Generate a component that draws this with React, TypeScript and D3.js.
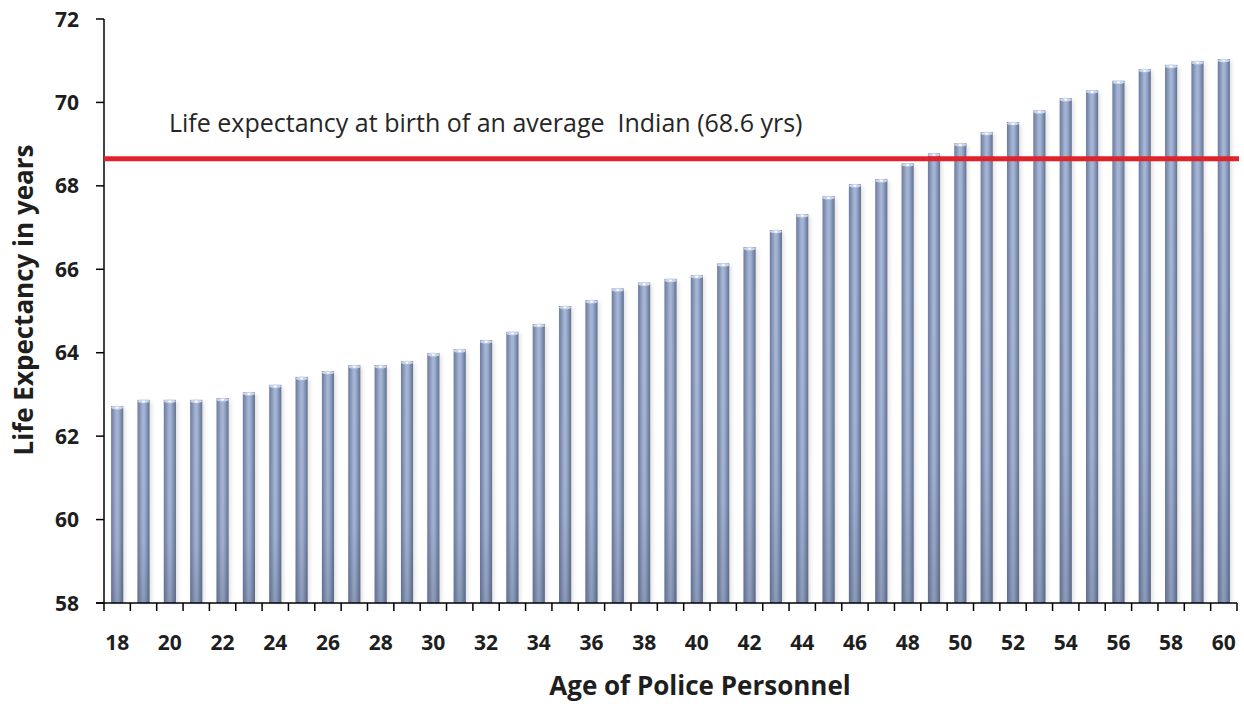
import React from "react";
import * as d3 from "d3";

const ages: number[] = [18,19,20,21,22,23,24,25,26,27,28,29,30,31,32,33,34,35,36,37,38,39,40,41,42,43,44,45,46,47,48,49,50,51,52,53,54,55,56,57,58,59,60];
const lifeExpectancy: number[] = [62.72,62.87,62.87,62.87,62.91,63.05,63.23,63.42,63.56,63.7,63.7,63.8,63.99,64.08,64.3,64.5,64.69,65.12,65.26,65.54,65.68,65.77,65.86,66.14,66.53,66.94,67.32,67.75,68.04,68.16,68.54,68.78,69.02,69.29,69.53,69.81,70.1,70.29,70.52,70.8,70.9,70.99,71.04];
const yTicks: number[] = [58,60,62,64,66,68,70,72];
const referenceValue = 68.6;
const referenceLabel = "Life expectancy at birth of an average  Indian (68.6 yrs)";
const xTitle = "Age of Police Personnel";
const yTitle = "Life Expectancy in years";

const W = 1244, H = 704;
const left = 104, right = 1237, top = 19, bottom = 603;

export default function App() {
  const x = d3.scaleBand<number>().domain(ages).range([left, right]).paddingInner(0.54).paddingOuter(0.27);
  const y = d3.scaleLinear().domain([58, 72]).range([bottom, top]);
  const font = "'Open Sans', Lato, sans-serif";
  const boundaries = d3.range(ages.length + 1).map(i => left + i * ((right - left) / ages.length));

  return (
    <svg width={W} height={H} style={{ position: "absolute", left: 0, top: 0, background: "#fff" }}>
      <defs>
        <linearGradient id="barH" x1="0" x2="1" y1="0" y2="0">
          <stop offset="0" stopColor="#6b7a9c" />
          <stop offset="0.45" stopColor="#a6b6d6" />
          <stop offset="0.6" stopColor="#9fb0d2" />
          <stop offset="1" stopColor="#62708f" />
        </linearGradient>
        <linearGradient id="barV" x1="0" x2="0" y1="0" y2="1">
          <stop offset="0" stopColor="#ffffff" stopOpacity="0" />
          <stop offset="0.7" stopColor="#3a4660" stopOpacity="0.05" />
          <stop offset="1" stopColor="#3a4660" stopOpacity="0.25" />
        </linearGradient>
        <filter id="shadow" x="-50%" y="-5%" width="200%" height="110%">
          <feGaussianBlur stdDeviation="2" />
        </filter>
      </defs>

      {ages.map((a, i) => {
        const bx = x(a)!;
        const bw = x.bandwidth();
        const by = y(lifeExpectancy[i]);
        return (
          <g key={a}>
            <rect x={bx + 2} y={by + 2} width={bw} height={bottom - by - 2} fill="#000" opacity={0.12} filter="url(#shadow)" />
            <rect x={bx} y={by} width={bw} height={bottom - by} fill="url(#barH)" />
            <rect x={bx} y={by} width={bw} height={bottom - by} fill="url(#barV)" />
            <ellipse cx={bx + bw / 2} cy={by + 1.5} rx={bw / 2} ry={1.8} fill="#c9d4ea" />
            <ellipse cx={bx + bw / 2} cy={by + 1.6} rx={1.6} ry={1} fill="#ffffff" />
          </g>
        );
      })}

      {/* Y axis */}
      <line x1={left} x2={left} y1={top} y2={bottom} stroke="#000" strokeWidth={1.5} />
      {yTicks.map(t => (
        <g key={t}>
          <line x1={left - 8} x2={left} y1={y(t)} y2={y(t)} stroke="#000" strokeWidth={1.5} />
          <text x={79} y={y(t)} dy="0.36em" textAnchor="end" fontFamily={font} fontWeight="bold" fontSize={21} fill="#1e1e1e">{t}</text>
        </g>
      ))}

      {/* X axis */}
      <line x1={96} x2={right} y1={bottom} y2={bottom} stroke="#000" strokeWidth={1.5} />
      {boundaries.map((bx, i) => (
        <line key={i} x1={bx} x2={bx} y1={bottom} y2={bottom + 8} stroke="#000" strokeWidth={1.5} />
      ))}
      {ages.filter(a => a % 2 === 0).map(a => (
        <text key={a} x={x(a)! + x.bandwidth() / 2} y={650} textAnchor="middle" fontFamily={font} fontWeight="bold" fontSize={21} fill="#1e1e1e">{a}</text>
      ))}

      {/* Reference line */}
      <line x1={left} x2={1239} y1={y(referenceValue) - 2} y2={y(referenceValue) - 2} stroke="#e0222b" strokeWidth={5} />
      <text x={169} y={132} fontFamily={font} fontSize={25} fill="#262626" style={{ whiteSpace: "pre" }}>{referenceLabel}</text>

      {/* Titles */}
      <text x={700} y={695} textAnchor="middle" fontFamily={font} fontWeight="bold" fontSize={26} fill="#1e1e1e">{xTitle}</text>
      <text transform={`translate(33, 300) rotate(-90)`} textAnchor="middle" fontFamily={font} fontWeight="bold" fontSize={26} fill="#1e1e1e">{yTitle}</text>
    </svg>
  );
}
